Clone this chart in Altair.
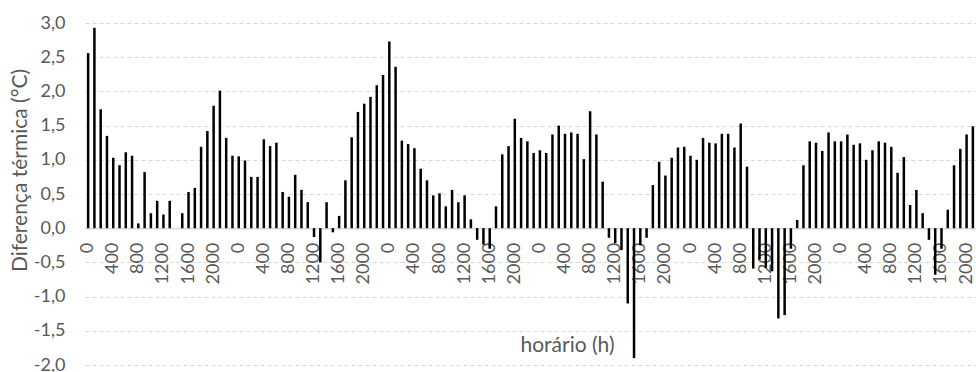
import altair as alt
import pandas as pd

# Hourly thermal difference (°C), six consecutive days, one bar per hour
day1 = [2.56, 2.93, 1.74, 1.35, 1.03, 0.92, 1.11, 1.06, 0.07, 0.82, 0.22, 0.40,
        0.20, 0.40, 0.00, 0.22, 0.53, 0.59, 1.19, 1.42, 1.79, 2.01, 1.32, 1.06]
day2 = [1.05, 0.99, 0.75, 0.75, 1.30, 1.20, 1.25, 0.53, 0.46, 0.78, 0.56, 0.38,
        -0.13, -0.50, 0.38, -0.06, 0.18, 0.70, 1.33, 1.70, 1.82, 1.92, 2.09, 2.24]
day3 = [2.73, 2.36, 1.28, 1.23, 1.17, 0.87, 0.70, 0.48, 0.51, 0.32, 0.56, 0.38,
        0.48, 0.13, -0.17, -0.24, -0.30, 0.32, 1.08, 1.20, 1.60, 1.32, 1.27, 1.10]
day4 = [1.14, 1.10, 1.37, 1.50, 1.38, 1.40, 1.38, 1.01, 1.71, 1.37, 0.68, -0.14,
        -0.22, -0.32, -1.10, -1.90, -0.25, -0.14, 0.63, 0.97, 0.77, 1.03, 1.18, 1.19]
day5 = [1.06, 1.00, 1.32, 1.25, 1.24, 1.38, 1.38, 1.18, 1.53, 0.90, -0.59, -0.46,
        -0.58, -0.63, -1.32, -1.27, -0.30, 0.12, 0.92, 1.27, 1.25, 1.13, 1.40, 1.27]
day6 = [1.27, 1.37, 1.22, 1.24, 1.00, 1.14, 1.27, 1.25, 1.19, 0.81, 1.04, 0.34,
        0.56, 0.22, -0.17, -0.68, -0.30, 0.27, 0.92, 1.16, 1.37, 1.49]

hours = [h * 100 for h in range(24)]          # 0, 100, ..., 2300
labelled_hours = [0, 400, 800, 1200, 1600, 2000]

values = day1 + day2 + day3 + day4 + day5 + day6
hour_of_bar = [hours[i % 24] for i in range(len(values))]

df = pd.DataFrame({"idx": list(range(len(values))), "hora": hour_of_bar, "dif": values})

tick_idx = [i for i, h in enumerate(hour_of_bar) if h in labelled_hours]
hour_text = [str(h) for h in hour_of_bar]
label_expr = "[" + ",".join(f"'{t}'" for t in hour_text) + "][datum.value]"

FONT = "Lato"
GRAY = "#595959"
PLOT_W, PLOT_H = 891, 342
Y_MIN, Y_MAX = -2.0, 3.0
zero_offset = -PLOT_H * (0 - Y_MIN) / (Y_MAX - Y_MIN)

bars = alt.Chart(df).mark_bar(color="black", width=2.5).encode(
    x=alt.X(
        "idx:O",
        scale=alt.Scale(paddingInner=0.6, paddingOuter=0.3),
        axis=alt.Axis(
            values=tick_idx,
            labelExpr=label_expr,
            labelAngle=-90,
            labelFont=FONT,
            labelFontSize=18,
            labelColor=GRAY,
            labelPadding=14,
            labelOverlap=False,
            ticks=False,
            domain=True,
            domainColor="#d9d9d9",
            domainWidth=1.5,
            offset=zero_offset,
            title="horário (h)",
            titleFont=FONT,
            titleFontSize=21,
            titleFontWeight="normal",
            titleColor=GRAY,
            titleX=482,
            titleY=117,
            titleBaseline="middle",
        ),
    ),
    y=alt.Y(
        "dif:Q",
        scale=alt.Scale(domain=[Y_MIN, Y_MAX], nice=False),
        axis=alt.Axis(
            values=[-2.0, -1.5, -1.0, -0.5, 0.0, 0.5, 1.0, 1.5, 2.0, 2.5, 3.0],
            labelExpr="replace(replace(format(datum.value, '.1f'), '.', ','), '\u2212', '-')",
            labelFont=FONT,
            labelFontSize=18,
            labelColor=GRAY,
            labelPadding=20,
            ticks=False,
            domain=False,
            grid=True,
            gridColor="#d9d9d9",
            gridDash=[4, 3],
            gridWidth=1,
            title="Diferença térmica (°C)",
            titleFont=FONT,
            titleFontSize=21,
            titleFontWeight="normal",
            titleColor=GRAY,
            titleX=-65,
            titleY=147,
            titleBaseline="middle",
        ),
    ),
)

chart = bars.properties(
    width=PLOT_W,
    height=PLOT_H,
    autosize=alt.AutoSizeParams(type="none"),
    padding={"left": 85, "top": 23, "right": 0, "bottom": 7},
    background="white",
).configure_view(stroke=None)

chart.save("out.html", embed_options={"renderer": "svg", "actions": False})
